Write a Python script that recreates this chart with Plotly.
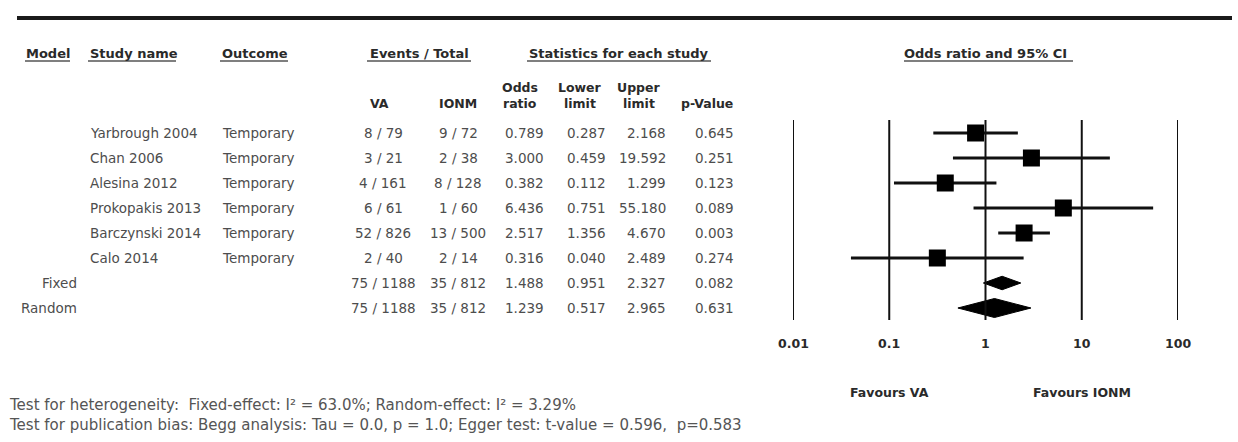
import math
import plotly.graph_objects as go

# ---- data ----
studies = ["Yarbrough 2004", "Chan 2006", "Alesina 2012", "Prokopakis 2013",
           "Barczynski 2014", "Calo 2014"]
outcome = ["Temporary"] * 6
va_events = [8, 3, 4, 6, 52, 2]
va_total = [79, 21, 161, 61, 826, 40]
ionm_events = [9, 2, 8, 1, 13, 2]
ionm_total = [72, 38, 128, 60, 500, 14]
odds_ratio = [0.789, 3.000, 0.382, 6.436, 2.517, 0.316]
lower_limit = [0.287, 0.459, 0.112, 0.751, 1.356, 0.040]
upper_limit = [2.168, 19.592, 1.299, 55.180, 4.670, 2.489]
p_value = [0.645, 0.251, 0.123, 0.089, 0.003, 0.274]

models = ["Fixed", "Random"]
model_va = ["75 / 1188", "75 / 1188"]
model_ionm = ["35 / 812", "35 / 812"]
model_or = [1.488, 1.239]
model_lower = [0.951, 0.517]
model_upper = [2.327, 2.965]
model_p = [0.082, 0.631]

tick_vals = [0.01, 0.1, 1, 10, 100]
tick_text = ["0.01", "0.1", "1", "10", "100"]

W, H = 1238, 442
ROW0, ROWSTEP = 133, 25          # pixel centre of first row, row pitch
FONT = "DejaVu Sans, Verdana, sans-serif"
TXT = "#4d4d4d"
HEAD = "#2a2a2a"


def px(x):
    return x / W


def ry(ypix):
    """pixel row -> y data units"""
    return (ypix - ROW0) / ROWSTEP


def pyp(ypix):
    """pixel -> paper y"""
    return 1 - ypix / H


fig = go.Figure()

n = len(studies)
rows = list(range(n))
mrows = [n, n + 1]

# decade reference lines of the odds-ratio scale
for tv in tick_vals:
    fig.add_shape(type="line", xref="x", yref="y", x0=tv, x1=tv,
                  y0=-0.52, y1=n + 1.48, line=dict(color="#111", width=2))

# confidence intervals
ci_x, ci_y = [], []
for i in rows:
    ci_x += [lower_limit[i], upper_limit[i], None]
    ci_y += [i, i, None]
fig.add_trace(go.Scatter(x=ci_x, y=ci_y, mode="lines",
                         line=dict(color="#111", width=3),
                         hoverinfo="skip", showlegend=False))

# point estimates
fig.add_trace(go.Scatter(x=odds_ratio, y=rows, mode="markers",
                         marker=dict(symbol="square", size=17, color="#000"),
                         showlegend=False))

# pooled estimates as diamonds
half_h = [0.27, 0.38]
for k, r in enumerate(mrows):
    h = half_h[k]
    fig.add_trace(go.Scatter(
        x=[model_lower[k], model_or[k], model_upper[k], model_or[k], model_lower[k]],
        y=[r, r - h, r, r + h, r],
        mode="lines", fill="toself", fillcolor="#000",
        line=dict(color="#000", width=1), hoverinfo="skip", showlegend=False))

ann = []


def text(x, y, s, anchor="left", size=13.5, bold=False, xref="paper", color=None):
    # annotations on a log axis are positioned in log10 units
    if xref == "x":
        x = math.log10(x)
    if color is None:
        color = HEAD if bold else TXT
    ann.append(dict(x=x, y=y, xref=xref, yref="y", text=f"<b>{s}</b>" if bold else s,
                    showarrow=False, xanchor=anchor, yanchor="middle",
                    font=dict(family=FONT, size=size, color=color)))


# column headers
hy = ry(53)
HS = 13
text(px(48), hy, "Model", "center", HS, True)
text(px(88), hy, "Study name", "left", HS, True)
text(px(220), hy, "Outcome", "left", HS, True)
text(px(419), hy, "Events / Total", "center", HS, True)
text(px(619), hy, "Statistics for each study", "center", HS, True)
text(1, hy, "Odds ratio and 95% CI", "center", HS, True, xref="x")

underlines = [(25, 70), (88, 176), (220, 288), (367, 471), (527, 711), (904, 1073)]
for x0, x1 in underlines:
    fig.add_shape(type="line", xref="paper", yref="paper", x0=px(x0), x1=px(x1),
                  y0=pyp(61), y1=pyp(61), line=dict(color="#555", width=1.5))

# sub headers
s1, s2 = ry(87), ry(103)
SS = 12.5
text(px(380), s2, "VA", "center", SS, True)
text(px(458), s2, "IONM", "center", SS, True)
text(px(520), s1, "Odds", "center", SS, True)
text(px(520), s2, "ratio", "center", SS, True)
text(px(580), s1, "Lower", "center", SS, True)
text(px(580), s2, "limit", "center", SS, True)
text(px(639), s1, "Upper", "center", SS, True)
text(px(639), s2, "limit", "center", SS, True)
text(px(707), s2, "p-Value", "center", SS, True)

# study rows
for i in rows:
    text(px(88), i, studies[i], "left")
    text(px(220), i, outcome[i], "left")
    text(px(383), i, f"{va_events[i]} / {va_total[i]}", "center")
    text(px(458), i, f"{ionm_events[i]} / {ionm_total[i]}", "center")
    text(px(546), i, f"{odds_ratio[i]:.3f}", "right")
    text(px(608), i, f"{lower_limit[i]:.3f}", "right")
    text(px(668), i, f"{upper_limit[i]:.3f}", "right")
    text(px(736), i, f"{p_value[i]:.3f}", "right")

# pooled rows
for k, r in enumerate(mrows):
    text(px(79), r, models[k], "right")
    text(px(383), r, model_va[k], "center")
    text(px(458), r, model_ionm[k], "center")
    text(px(546), r, f"{model_or[k]:.3f}", "right")
    text(px(608), r, f"{model_lower[k]:.3f}", "right")
    text(px(668), r, f"{model_upper[k]:.3f}", "right")
    text(px(736), r, f"{model_p[k]:.3f}", "right")

# scale labels
for tv, tt in zip(tick_vals, tick_text):
    text(tv, ry(343), tt, "center", 12.5, True, xref="x")

text(0.1, ry(392), "Favours VA", "center", 12.5, True, xref="x")
text(10, ry(392), "Favours IONM", "center", 12.5, True, xref="x")

# footnotes
FS = 15
text(px(7), ry(405), "Test for heterogeneity:  Fixed-effect: I² = 63.0%; Random-effect: I² = 3.29%",
     "left", FS, color="#555")
text(px(7), ry(425), "Test for publication bias: Begg analysis: Tau = 0.0, p = 1.0; "
     "Egger test: t-value = 0.596,  p=0.583", "left", FS, color="#555")

# heavy rule under the title
fig.add_shape(type="line", xref="paper", yref="paper", x0=px(17), x1=px(1232),
              y0=pyp(18), y1=pyp(18), line=dict(color="#1a1a1a", width=4))

fig.update_layout(
    width=W, height=H,
    margin=dict(l=0, r=0, t=0, b=0),
    paper_bgcolor="white", plot_bgcolor="white",
    annotations=ann,
    xaxis=dict(type="log", range=[-2, 2], domain=[px(793), px(1178)],
               visible=False, fixedrange=True),
    yaxis=dict(range=[ry(H), ry(0)], domain=[0, 1], visible=False, fixedrange=True),
    showlegend=False,
)

fig.write_html("out.html")
